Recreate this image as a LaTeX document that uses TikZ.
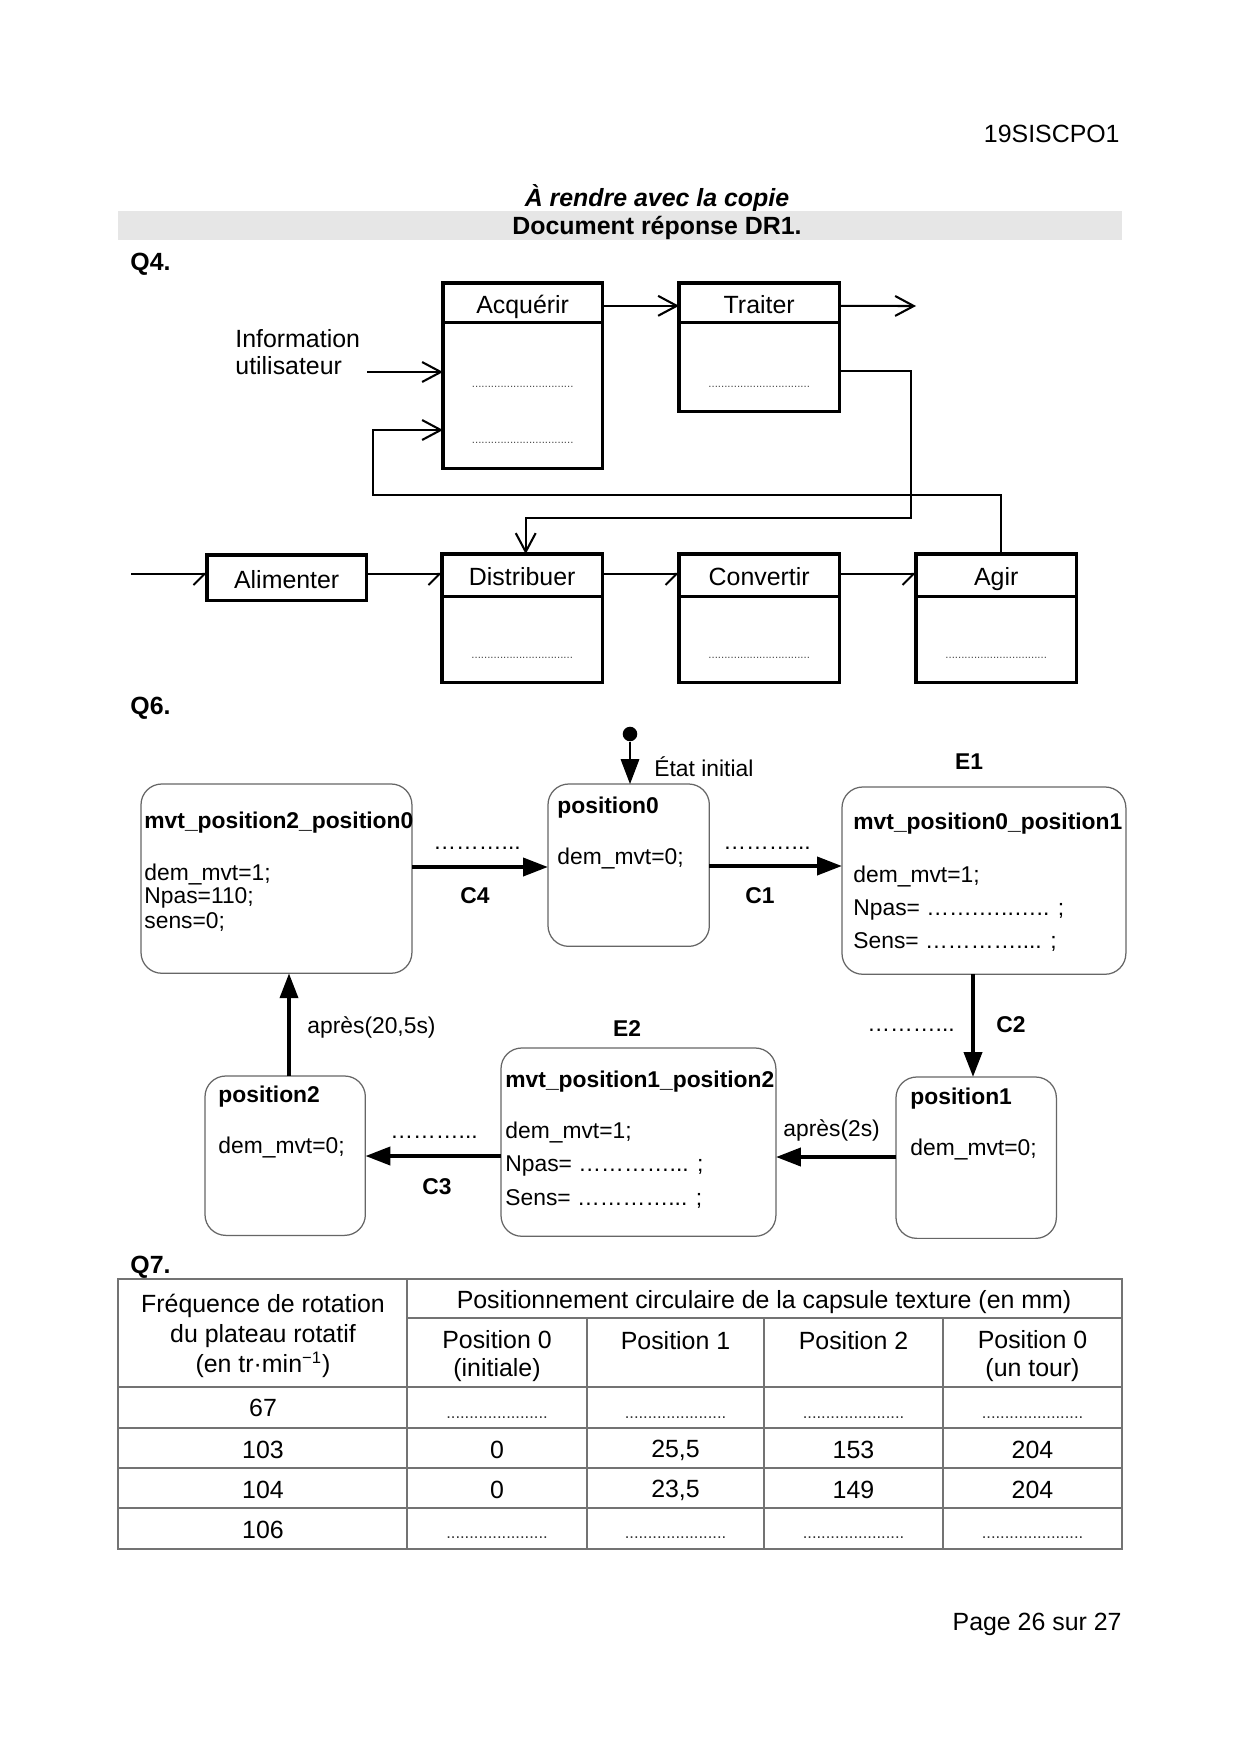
\documentclass[tikz,border=0pt]{standalone}
\usepackage{fontspec}
\setmainfont{Liberation Sans}
\usetikzlibrary{positioning}
\usetikzlibrary{calc}
\usetikzlibrary{arrows.meta}

\newcommand{\pxu}{0.0169355cm}
\definecolor{bandeau}{HTML}{E6E6E6}

\begin{document}
\begin{tikzpicture}[x=\pxu,y=-\pxu]
	\tikzstyle{texte} = [inner sep=0pt,font=\fontsize{12}{14.4}\selectfont]
	\tikzstyle{titre} = [inner sep=0pt,font=\fontsize{12}{14.4}\selectfont\bfseries]
	\tikzstyle{bloc} = [draw,line width=1.5pt,inner sep=0pt,outer sep=0pt,anchor=north west,text height=10pt,text depth=0pt,font=\fontsize{12}{14.4}\selectfont]
	\tikzstyle{flux} = [line width=1pt,-{Straight Barb[length=9pt,width=9.6pt]}]
	\tikzstyle{demi} = [line width=1pt,-{Straight Barb[harpoon,swap,length=5.3pt,width=10.6pt]}]
	\tikzstyle{pointilles} = [inner sep=0pt,anchor=base,text=black!70,font=\fontsize{5.5}{6}\selectfont]
	\tikzstyle{etat} = [draw=black!60,line width=0.6pt,rounded corners=10pt,inner sep=0pt,outer sep=0pt,anchor=north west]
	\tikzstyle{ligne} = [inner sep=0pt,anchor=west,font=\fontsize{11}{13}\selectfont]
	\tikzstyle{nom} = [inner sep=0pt,anchor=west,font=\fontsize{11}{13}\selectfont\bfseries]
	\tikzstyle{trans} = [line width=2pt,-{Triangle[length=12pt,width=8.6pt]}]
	\tikzstyle{initfl} = [line width=0.5pt,-{Triangle[length=12pt,width=9pt]}]
	\tikzstyle{point} = [circle,fill,inner sep=0pt,minimum size=7pt]
	\tikzstyle{grille} = [draw=black!55,line width=0.7pt]
	\tikzstyle{cellule} = [inner sep=0pt,align=center,font=\fontsize{12}{14.4}\selectfont]
	\tikzstyle{tirets} = [inner sep=0pt,anchor=base,text=black!80,font=\fontsize{8}{9}\selectfont]

	\useasboundingbox (0,0) rectangle (1240,1754);
	\fill[white] (0,0) rectangle (1240,1754);

	% en-tete
	\node[texte,anchor=east] (code) at (1120,134) {19SISCPO1};
	\node[titre,font=\fontsize{12}{14.4}\selectfont\bfseries\itshape] (rendre) at (657,198) {À rendre avec la copie};
	\fill[bandeau] (118,211) rectangle (1122,240);
	\node[titre] (dr) at (657,228) {Document réponse DR1.};

	% Q4 : chaine d'information et d'energie
	\node[titre,anchor=west] (q4) at (130,264) {Q4.};

	\node[bloc,minimum width=76.8pt,minimum height=19.2pt] (acq) at (443,283) {Acquérir};
	\node[bloc,minimum width=76.8pt,minimum height=70.08pt,below=0pt of acq] (acqb) {};
	\node[bloc,minimum width=77.28pt,minimum height=19.2pt] (trt) at (679,283) {Traiter};
	\node[bloc,minimum width=77.28pt,minimum height=42.72pt,below=0pt of trt] (trtb) {};

	\node[bloc,minimum width=76.8pt,minimum height=22.08pt] (alim) at (207,555) {Alimenter};
	\node[bloc,minimum width=77.28pt,minimum height=20.64pt] (dist) at (442,554) {Distribuer};
	\node[bloc,minimum width=77.28pt,minimum height=41.28pt,below=0pt of dist] (distb) {};
	\node[bloc,minimum width=77.28pt,minimum height=20.64pt] (conv) at (679,554) {Convertir};
	\node[bloc,minimum width=77.28pt,minimum height=41.28pt,below=0pt of conv] (convb) {};
	\node[bloc,minimum width=77.28pt,minimum height=20.64pt] (agir) at (916,554) {Agir};
	\node[bloc,minimum width=77.28pt,minimum height=41.28pt,below=0pt of agir] (agirb) {};

	\node[pointilles] (acqd1) at (acqb.center |- 0,387) {................................};
	\node[pointilles] (acqd2) at (acqb.center |- 0,443) {................................};
	\node[pointilles] (trtd) at (trtb.center |- 0,387) {................................};
	\node[pointilles] (distd) at (distb.center |- 0,658) {................................};
	\node[pointilles] (convd) at (convb.center |- 0,658) {................................};
	\node[pointilles] (agird) at (agirb.center |- 0,658) {................................};

	\node[texte,anchor=west,align=left,font=\fontsize{12}{13.4}\selectfont] (info) at (235,352) {Information\\utilisateur};
	\coordinate (infod) at (367,372);
	\draw[flux] (infod) -- (infod -| acqb.west);
	\draw[flux] ([yshift=-11pt]acq.north east) -- ([yshift=-11pt]trt.north west);
	\coordinate (sortie) at (916,306);
	\draw[flux] ([yshift=-11pt]trt.north east) -- (sortie);

	\coordinate (r1) at (911,371);
	\coordinate (r2) at (911,518);
	\draw[flux] (r1 -| trtb.east) -- (r1) -- (r2) -| ([xshift=1.7pt]dist.north);
	\coordinate (r3) at (373,495);
	\coordinate (r4) at (373,430);
	\draw[flux] ([xshift=2.2pt]agir.north) |- (r3) -- (r4) -- (r4 -| acqb.west);

	\coordinate (entree) at (131,574);
	\draw[demi] (entree) -- (entree -| alim.west);
	\draw[demi] (entree -| alim.east) -- (entree -| dist.west);
	\draw[demi] (entree -| dist.east) -- (entree -| conv.west);
	\draw[demi] (entree -| conv.east) -- (entree -| agir.west);

	% Q6 : diagramme d'etats
	\node[titre,anchor=west] (q6) at (130,708) {Q6.};

	\node[etat,minimum width=130.56pt,minimum height=91.2pt] (s20) at (141,784) {};
	\node[nom] (s20n) at (144,823) {mvt\_position2\_position0};
	\node[ligne] (s20a) at (144,874) {dem\_mvt=1;};
	\node[ligne] (s20b) at (144,898) {Npas=110;};
	\node[ligne] (s20c) at (144,922) {sens=0;};

	\node[etat,minimum width=77.76pt,minimum height=78.24pt] (p0) at (548,784) {};
	\node[nom] (p0n) at (557,808) {position0};
	\node[ligne] (p0a) at (557,858) {dem\_mvt=0;};

	\node[etat,minimum width=136.8pt,minimum height=90.24pt] (s01) at (842,787) {};
	\node[nom] (s01n) at (853,824) {mvt\_position0\_position1};
	\node[ligne] (s01a) at (853,876) {dem\_mvt=1;};
	\node[ligne] (s01b) at (853,910) {Npas= …….…..….. ;};
	\node[ligne] (s01c) at (853,942) {Sens= ………….... ;};

	\node[etat,minimum width=77.28pt,minimum height=77.76pt] (p1) at (896,1077) {};
	\node[nom] (p1n) at (910,1099) {position1};
	\node[ligne] (p1a) at (910,1149) {dem\_mvt=0;};

	\node[etat,minimum width=132.48pt,minimum height=90.72pt] (s12) at (501,1048) {};
	\node[nom] (s12n) at (505,1082) {mvt\_position1\_position2};
	\node[ligne] (s12a) at (505,1132) {dem\_mvt=1;};
	\node[ligne] (s12b) at (505,1166) {Npas= …………... ;};
	\node[ligne] (s12c) at (505,1199) {Sens= …………... ;};

	\node[etat,minimum width=77.28pt,minimum height=76.8pt] (p2) at (205,1076) {};
	\node[nom] (p2n) at (218,1097) {position2};
	\node[ligne] (p2a) at (218,1147) {dem\_mvt=0;};

	\node[point] (init) at (630,734) {};
	\draw[initfl] (init) -- (init |- p0.north);
	\node[ligne] (etinit) at (654,767) {État initial};

	\draw[trans] (s20.east |- 0,867) -- (p0.west |- 0,867);
	\draw[trans] (p0.east |- 0,866) -- (s01.west |- 0,866);
	\draw[trans] (s01.south -| 973,0) -- (p1.north -| 973,0);
	\draw[trans] (p1.west |- 0,1157) -- (s12.east |- 0,1157);
	\draw[trans] (s12.west |- 0,1156) -- (p2.east |- 0,1156);
	\draw[trans] (p2.north -| 289,0) -- (s20.south -| 289,0);

	\node[ligne,anchor=base] (c4p) at (477,849) {………...};
	\node[nom,anchor=center] (c4) at (475,896) {C4};
	\node[ligne,anchor=base] (c1p) at (767,849) {………...};
	\node[nom,anchor=center] (c1) at (760,896) {C1};
	\node[ligne,anchor=base] (c2p) at (911,1031) {………...};
	\node[nom,anchor=center] (c2) at (1011,1025) {C2};
	\node[ligne] (apres2) at (783,1130) {après(2s)};
	\node[ligne,anchor=base] (c3p) at (434,1138) {………...};
	\node[nom,anchor=center] (c3) at (437,1187) {C3};
	\node[ligne] (apres20) at (307,1027) {après(20,5s)};
	\node[nom,anchor=center] (e1) at (969,762) {E1};
	\node[nom,anchor=center] (e2) at (627,1029) {E2};

	% Q7 : tableau
	\node[titre,anchor=west] (q7) at (130,1267) {Q7.};
	\draw[grille] (118,1279) rectangle (1122,1549);
	\draw[grille] (407,1279) -- (407,1549);
	\draw[grille] (407,1318) -- (1122,1318);
	\foreach \xc in {587,764,943} \draw[grille] (\xc,1318) -- (\xc,1549);
	\foreach \yl in {1387,1428,1468,1508} \draw[grille] (118,\yl) -- (1122,\yl);

	\node[cellule] (freq) at (263,1336) {Fréquence de rotation\\du plateau rotatif\\(en tr·min\textsuperscript{−1})};
	\node[cellule] (posit) at (764,1302) {Positionnement circulaire de la capsule texture (en mm)};
	\node[cellule,font=\fontsize{12}{13.4}\selectfont] (h0) at (497,1356) {Position 0\\(initiale)};
	\node[cellule] (h1) at (675.5,1341) {Position 1};
	\node[cellule] (h2) at (853.5,1341) {Position 2};
	\node[cellule,font=\fontsize{12}{13.4}\selectfont] (h3) at (1032.5,1356) {Position 0\\(un tour)};

	\node[cellule] (f67) at (263,1408) {67};
	\node[tirets] (d67a) at (497,1418) {......................};
	\node[tirets] (d67b) at (675.5,1418) {......................};
	\node[tirets] (d67c) at (853.5,1418) {......................};
	\node[tirets] (d67d) at (1032.5,1418) {......................};

	\node[cellule] (f103) at (263,1450) {103};
	\node[cellule] (v103a) at (497,1450) {0};
	\node[cellule] (v103b) at (675.5,1450) {25,5};
	\node[cellule] (v103c) at (853.5,1450) {153};
	\node[cellule] (v103d) at (1032.5,1450) {204};

	\node[cellule] (f104) at (263,1490) {104};
	\node[cellule] (v104a) at (497,1490) {0};
	\node[cellule] (v104b) at (675.5,1490) {23,5};
	\node[cellule] (v104c) at (853.5,1490) {149};
	\node[cellule] (v104d) at (1032.5,1490) {204};

	\node[cellule] (f106) at (263,1530) {106};
	\node[tirets] (d106a) at (497,1538) {......................};
	\node[tirets] (d106b) at (675.5,1538) {......................};
	\node[tirets] (d106c) at (853.5,1538) {......................};
	\node[tirets] (d106d) at (1032.5,1538) {......................};

	\node[texte,anchor=east] (page) at (1122,1624) {Page 26 sur 27};
\end{tikzpicture}
\end{document}
